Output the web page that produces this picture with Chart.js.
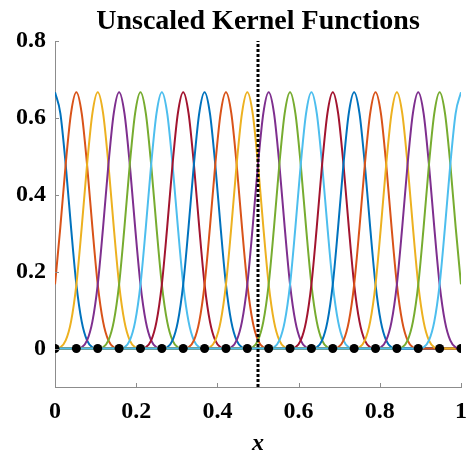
<!DOCTYPE html>
<html>
<head>
<meta charset="utf-8">
<script src="https://cdn.jsdelivr.net/npm/chart.js@4"></script>
<style>
  body { margin: 0; background: #fff; }
  #wrap { width: 466px; height: 453px; }
</style>
</head>
<body>
<div id="wrap"><canvas id="main_chart" width="466" height="453"></canvas></div>
<script>
// kernel centres (20 nodes on [0, 1])
const centers = [0, 0.0526, 0.1053, 0.1579, 0.2105, 0.2632, 0.3158, 0.3684, 0.4211, 0.4737,
    0.5263, 0.5789, 0.6316, 0.6842, 0.7368, 0.7895, 0.8421, 0.8947, 0.9474, 1];
// shape of one kernel (offset from centre -> value)
const kernelOffsets = [-0.1053, -0.0921, -0.0789, -0.0658, -0.0526, -0.0395, -0.0263, -0.0132, 0,
    0.0132, 0.0263, 0.0395, 0.0526, 0.0658, 0.0789, 0.0921, 0.1053];
const kernelValues = [0, 0.003, 0.021, 0.070, 0.167, 0.315, 0.479, 0.612, 0.667,
    0.612, 0.479, 0.315, 0.167, 0.070, 0.021, 0.003, 0];
// dotted marker line
const markX = [0.5, 0.5];
const markY = [-0.1, 0.8];
// ticks
const xTicks = [0, 0.2, 0.4, 0.6, 0.8, 1];
const yTicks = [0, 0.2, 0.4, 0.6, 0.8];
const titleText = 'Unscaled Kernel Functions';

const colors = ['#0072BD', '#D95319', '#EDB120', '#7E2F8E', '#77AC30', '#4DBEEE', '#A2142F'];
const serif = "'Liberation Serif', 'Times New Roman', serif";

let datasets = [];
centers.forEach((c, i) => {
    let pts = [];
    kernelOffsets.forEach((o, k) => {
        let x = c + o;
        if (x >= -0.001 && x <= 1.001) {
            pts.push({ x: Math.min(1, Math.max(0, x)), y: kernelValues[k] });
        }
    });
    if (pts[0].x > 0.001) pts.unshift({ x: 0, y: 0 });
    if (pts[pts.length - 1].x < 0.999) pts.push({ x: 1, y: 0 });
    datasets.push({
        data: pts,
        borderColor: colors[i % colors.length],
        borderWidth: 2,
        pointRadius: 0,
        cubicInterpolationMode: 'monotone',
        order: 100 - i
    });
});
datasets.push({
    data: markX.map((x, i) => ({ x: x, y: markY[i] })),
    borderColor: '#000',
    borderWidth: 3,
    borderDash: [3, 2],
    pointRadius: 0,
    order: 1
});
datasets.push({
    data: centers.map(c => ({ x: c, y: 0 })),
    showLine: false,
    pointRadius: 4.5,
    pointBackgroundColor: '#000',
    pointBorderWidth: 0,
    order: 0
});

// MATLAB style inward ticks + title centred on the axes
const innerTicks = {
    id: 'innerTicks',
    afterDraw(chart) {
        const { ctx, chartArea: a, scales } = chart;
        ctx.save();
        ctx.strokeStyle = '#8c8c8c';
        ctx.lineWidth = 1;
        ctx.beginPath();
        xTicks.forEach(v => {
            const p = Math.round(scales.x.getPixelForValue(v)) + 0.5;
            ctx.moveTo(p, a.bottom);
            ctx.lineTo(p, a.bottom - 4);
        });
        yTicks.forEach(v => {
            const p = Math.round(scales.y.getPixelForValue(v)) + 0.5;
            ctx.moveTo(a.left, p);
            ctx.lineTo(a.left + 4, p);
        });
        ctx.stroke();
        ctx.fillStyle = '#000';
        ctx.font = 'bold 28px ' + serif;
        ctx.textAlign = 'center';
        ctx.textBaseline = 'alphabetic';
        ctx.fillText(titleText, (a.left + a.right) / 2, 29);
        ctx.restore();
    }
};

let chart1 = new Chart(document.getElementById('main_chart'), {
    type: 'line',
    data: { datasets: datasets },
    options: {
        responsive: false,
        animation: false,
        devicePixelRatio: 1,
        layout: { padding: { left: 0, right: 5, top: 41, bottom: 0 } },
        plugins: {
            legend: { display: false },
            tooltip: { enabled: false },
            title: { display: false }
        },
        scales: {
            x: {
                type: 'linear',
                min: 0,
                max: 1,
                afterBuildTicks: s => { s.ticks = xTicks.map(v => ({ value: v })); },
                afterFit: s => { s.height = 66; s.paddingLeft = 0; s.paddingRight = 0; },
                grid: { display: false, drawTicks: false, tickLength: 0 },
                border: { display: true, color: '#8c8c8c', width: 1 },
                ticks: {
                    color: '#000',
                    padding: 10,
                    maxRotation: 0,
                    font: { family: serif, size: 24, weight: 'bold' },
                    callback: v => String(v)
                },
                title: {
                    display: true,
                    text: 'x',
                    color: '#000',
                    padding: { top: 0, bottom: -5 },
                    font: { family: serif, size: 24, weight: 'bold', style: 'italic' }
                }
            },
            y: {
                type: 'linear',
                min: -0.1,
                max: 0.8,
                afterBuildTicks: s => { s.ticks = yTicks.map(v => ({ value: v })); },
                afterFit: s => { s.width = 55; s.paddingTop = 0; s.paddingBottom = 0; },
                grid: { display: false, drawTicks: false, tickLength: 0 },
                border: { display: true, color: '#8c8c8c', width: 1 },
                ticks: {
                    color: '#000',
                    padding: 9,
                    font: { family: serif, size: 24, weight: 'bold' },
                    callback: v => String(v)
                }
            }
        }
    },
    plugins: [innerTicks]
});
</script>
</body>
</html>
